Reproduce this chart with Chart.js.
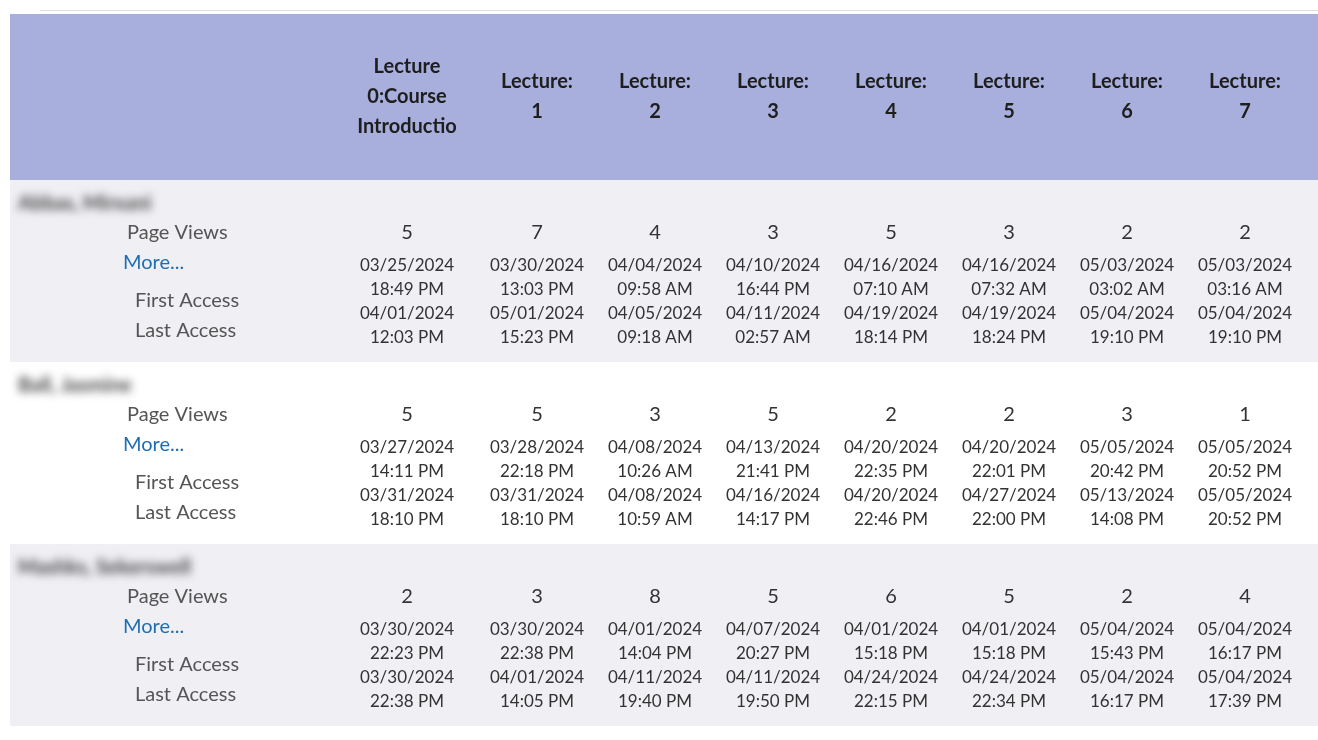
<!DOCTYPE html>
<html><head><meta charset="utf-8">
<script src="https://cdn.jsdelivr.net/npm/chart.js@4/dist/chart.umd.min.js"></script>
<style>html,body{margin:0;padding:0;background:#fff}canvas{display:block}</style>
</head><body>
<canvas id="c" width="1318" height="740"></canvas>
<script>
const lectureHeaders = [["Lecture","0:Course","Introductio"],["Lecture:","1"],["Lecture:","2"],["Lecture:","3"],["Lecture:","4"],["Lecture:","5"],["Lecture:","6"],["Lecture:","7"]];
const students = ["Abbas, Mirxani","Ball, Jasmine","Mashks, Sekerswell"];
const pageViews = [[5,7,4,3,5,3,2,2],[5,5,3,5,2,2,3,1],[2,3,8,5,6,5,2,4]];
const firstAccess = [
 [["03/25/2024","18:49 PM"],["03/30/2024","13:03 PM"],["04/04/2024","09:58 AM"],["04/10/2024","16:44 PM"],["04/16/2024","07:10 AM"],["04/16/2024","07:32 AM"],["05/03/2024","03:02 AM"],["05/03/2024","03:16 AM"]],
 [["03/27/2024","14:11 PM"],["03/28/2024","22:18 PM"],["04/08/2024","10:26 AM"],["04/13/2024","21:41 PM"],["04/20/2024","22:35 PM"],["04/20/2024","22:01 PM"],["05/05/2024","20:42 PM"],["05/05/2024","20:52 PM"]],
 [["03/30/2024","22:23 PM"],["03/30/2024","22:38 PM"],["04/01/2024","14:04 PM"],["04/07/2024","20:27 PM"],["04/01/2024","15:18 PM"],["04/01/2024","15:18 PM"],["05/04/2024","15:43 PM"],["05/04/2024","16:17 PM"]]];
const lastAccess = [
 [["04/01/2024","12:03 PM"],["05/01/2024","15:23 PM"],["04/05/2024","09:18 AM"],["04/11/2024","02:57 AM"],["04/19/2024","18:14 PM"],["04/19/2024","18:24 PM"],["05/04/2024","19:10 PM"],["05/04/2024","19:10 PM"]],
 [["03/31/2024","18:10 PM"],["03/31/2024","18:10 PM"],["04/08/2024","10:59 AM"],["04/16/2024","14:17 PM"],["04/20/2024","22:46 PM"],["04/27/2024","22:00 PM"],["05/13/2024","14:08 PM"],["05/05/2024","20:52 PM"]],
 [["03/30/2024","22:38 PM"],["04/01/2024","14:05 PM"],["04/11/2024","19:40 PM"],["04/11/2024","19:50 PM"],["04/24/2024","22:15 PM"],["04/24/2024","22:34 PM"],["05/04/2024","16:17 PM"],["05/04/2024","17:39 PM"]]];
const rowLabels = ["Page Views","More...","First Access","Last Access"];

const F = "Lato, 'Open Sans', sans-serif";
const tablePlugin = {
  id:'table',
  beforeDraw(chart){
    const ctx=chart.ctx, x=chart.scales.x, y=chart.scales.y;
    const half=(y.getPixelForValue(1)-y.getPixelForValue(0))/2;
    ctx.save();
    ctx.strokeStyle='#dddddd';ctx.lineWidth=1;
    ctx.beginPath();ctx.moveTo(40,10.5);ctx.lineTo(1318,10.5);ctx.stroke();
    ctx.fillStyle='#a8afdc';
    ctx.fillRect(10,14,1308,y.getPixelForValue(0)-half-14);
    students.forEach((s,i)=>{
      const c=y.getPixelForValue(i);
      ctx.fillStyle = i%2===0 ? '#efeff4' : '#ffffff';
      ctx.fillRect(10,c-half,1308,2*half);
    });
    ctx.restore();
  },
  afterDraw(chart){
    const ctx=chart.ctx, x=chart.scales.x, y=chart.scales.y;
    const half=(y.getPixelForValue(1)-y.getPixelForValue(0))/2;
    ctx.save();
    ctx.textAlign='center';ctx.textBaseline='middle';
    ctx.fillStyle='#1e1e1e';ctx.font='bold 20px '+F;
    lectureHeaders.forEach((h,j)=>{
      let cx=x.getPixelForValue(j);
      if(j===0) cx-=12;
      const w=x.getPixelForValue(1)-x.getPixelForValue(0);
      const start = h.length===3 ? 67 : 82;
      ctx.save();
      ctx.beginPath();ctx.rect(cx-w/2-4,14,w+2,166);ctx.clip();
      h.forEach((t,k)=>ctx.fillText(t,cx,start+k*30));
      ctx.restore();
    });
    students.forEach((s,i)=>{
      const T=y.getPixelForValue(i)-half;
      ctx.save();ctx.filter='blur(4px)';ctx.textAlign='left';
      ctx.fillStyle='#444';ctx.font='bold 20px '+F;ctx.fillText(s,18,T+24);ctx.restore();
      ctx.textAlign='left';ctx.font='20px '+F;
      ctx.fillStyle='#555';ctx.fillText(rowLabels[0],127,T+53);
      ctx.fillStyle='#1f6db3';ctx.fillText(rowLabels[1],123,T+83);
      ctx.fillStyle='#555';ctx.fillText(rowLabels[2],135,T+121);ctx.fillText(rowLabels[3],135,T+151);
      ctx.textAlign='center';
      for(let j=0;j<lectureHeaders.length;j++){
        let cx=x.getPixelForValue(j);
        if(j===0) cx-=12;
        ctx.fillStyle='#333';ctx.font='20px '+F;
        ctx.fillText(String(pageViews[i][j]),cx,T+53);
        ctx.font='17px '+F;
        ctx.fillText(firstAccess[i][j][0],cx,T+86);
        ctx.fillText(firstAccess[i][j][1],cx,T+110);
        ctx.fillText(lastAccess[i][j][0],cx,T+134);
        ctx.fillText(lastAccess[i][j][1],cx,T+158);
      }
    });
    ctx.restore();
  }
};
new Chart(document.getElementById('c'),{
  type:'bar',
  data:{labels:lectureHeaders.map(h=>h.join(' ')),datasets:[]},
  options:{
    responsive:false,animation:false,
    layout:{padding:{left:360,right:14,top:180,bottom:14}},
    plugins:{legend:{display:false},tooltip:{enabled:false}},
    scales:{
      x:{type:'category',labels:lectureHeaders.map(h=>h.join(' ')),offset:true,display:false},
      y:{type:'category',labels:students,offset:true,display:false}
    }
  },
  plugins:[tablePlugin]
});
</script>
</body></html>
